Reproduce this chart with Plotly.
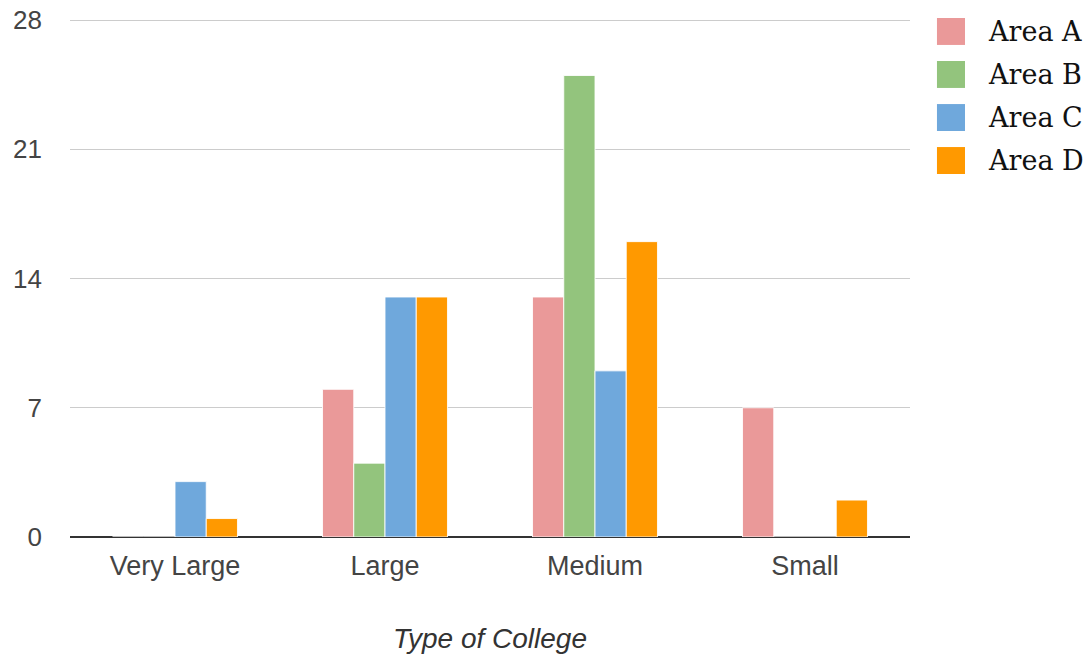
import plotly.graph_objects as go

categories = ["Very Large", "Large", "Medium", "Small"]
series_names = ["Area A", "Area B", "Area C", "Area D"]
area_a = [0, 8, 13, 7]
area_b = [0, 4, 25, 0]
area_c = [3, 13, 9, 0]
area_d = [1, 13, 16, 2]
series_values = [area_a, area_b, area_c, area_d]
colors = ["#EA9999", "#93C47D", "#6FA8DC", "#FF9900"]
y_ticks = [0, 7, 14, 21, 28]

fig = go.Figure()
for name, vals, col in zip(series_names, series_values, colors):
    fig.add_trace(go.Bar(
        x=categories, y=vals, name=name, showlegend=False,
        marker=dict(color=col, line=dict(color="rgba(255,255,255,0.85)", width=1)),
    ))

# custom legend (large squares as in the reference)
legend_y = [0.9759, 0.8929, 0.8098, 0.7268]
for name, col, yy in zip(series_names, colors, legend_y):
    fig.add_shape(type="rect", xref="paper", yref="paper",
                  x0=1.0321, x1=1.0655, y0=yy - 0.026, y1=yy + 0.026,
                  fillcolor=col, line=dict(width=0))
    fig.add_annotation(xref="paper", yref="paper", x=1.0905, y=yy,
                       xanchor="left", yanchor="middle", text=name, showarrow=False,
                       font=dict(family="DejaVu Serif", size=27, color="#111"))

fig.update_layout(
    width=1092, height=655,
    margin=dict(l=70, r=182, t=19, b=118, autoexpand=False),
    paper_bgcolor="white", plot_bgcolor="white",
    barmode="group", bargap=0.405, bargroupgap=0,
    font=dict(family="Liberation Sans", color="#444"),
)
fig.update_xaxes(
    tickfont=dict(size=27, color="#444"),
    ticklabelstandoff=10, ticklabeloverflow="allow",
    showgrid=False, showline=False, automargin=False,
    title=dict(text="<i>Type of College</i>", font=dict(size=28, color="#333"), standoff=48),
)
fig.update_yaxes(
    range=[0, 28.06], tickvals=y_ticks, ticktext=[str(v) for v in y_ticks],
    tickfont=dict(size=26, color="#444"),
    ticklabelstandoff=27, automargin=False, ticklabeloverflow="allow",
    showgrid=True, gridcolor="#cccccc", gridwidth=1,
    zeroline=True, zerolinecolor="#333333", zerolinewidth=2,
    showline=False,
)

fig.write_html("out.html", config={"displayModeBar": False},
               post_script="document.body.style.margin='0px';")
